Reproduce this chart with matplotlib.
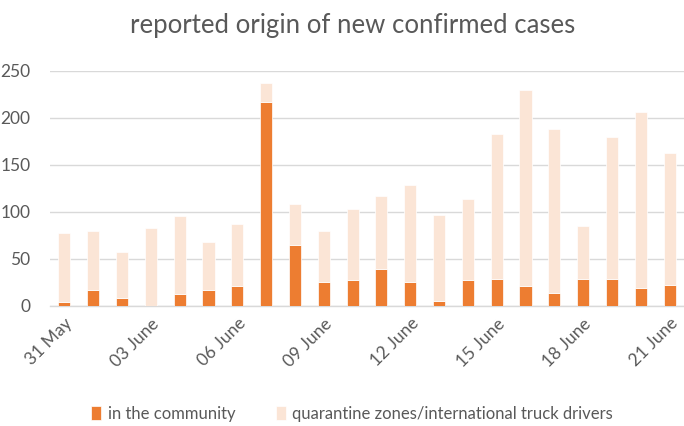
import matplotlib.pyplot as plt
import numpy as np

# daily new confirmed cases, 31 May - 21 June
dates = ["31 May", "01 June", "02 June", "03 June", "04 June", "05 June",
         "06 June", "07 June", "08 June", "09 June", "10 June", "11 June",
         "12 June", "13 June", "14 June", "15 June", "16 June", "17 June",
         "18 June", "19 June", "20 June", "21 June"]
community = [4, 17, 8, 0, 12, 17, 21, 217, 65, 25, 27, 39,
             25, 5, 27, 28, 21, 13, 28, 28, 19, 22]
total = [77, 79, 57, 83, 95, 68, 87, 237, 108, 80, 103, 117,
         128, 97, 114, 183, 229, 188, 85, 179, 206, 162]
quarantine = [t - c for t, c in zip(total, community)]

TEXT = "#595959"
ORANGE = "#ED7D31"
PEACH = "#FBE5D6"

plt.rcParams["font.family"] = ["Lato", "DejaVu Sans"]

fig = plt.figure(figsize=(6.84, 4.26), dpi=100)
ax = fig.add_axes([50 / 684, 1 - 305.7 / 426, 634 / 684, 235 / 426])

x = np.arange(len(dates))
ax.bar(x, community, width=0.42, color=ORANGE, edgecolor="white",
       linewidth=0.5, label="in the community", zorder=3)
ax.bar(x, quarantine, width=0.42, bottom=community, color=PEACH,
       edgecolor="white", linewidth=0.5,
       label="quarantine zones/international truck drivers", zorder=3)

ax.set_xlim(-0.5, len(dates) - 0.5)
ax.set_ylim(0, 250)
ax.set_yticks(range(0, 251, 50))
ax.yaxis.grid(True, color="#D9D9D9", linewidth=1)
ax.set_axisbelow(True)
for s in ["top", "right", "left"]:
    ax.spines[s].set_visible(False)
ax.spines["bottom"].set_color("#D9D9D9")
ax.spines["bottom"].set_linewidth(1)

ax.set_xticks(x[::3])
ax.set_xticklabels(dates[::3], rotation=45, ha="right", rotation_mode="anchor")
ax.tick_params(axis="both", length=0, labelsize=12.5, colors=TEXT)
ax.tick_params(axis="y", pad=14)
ax.tick_params(axis="x", pad=7)

fig.text(0.515, 0.94, "reported origin of new confirmed cases",
         ha="center", va="center", fontsize=18.5, color=TEXT)

fig.legend(loc="center", bbox_to_anchor=(0.515, 0.028), ncol=2,
           frameon=False, fontsize=12, labelcolor=TEXT,
           handlelength=0.6, handleheight=0.9, handletextpad=0.4,
           columnspacing=2.4)

fig.savefig("out.png", dpi=100)
